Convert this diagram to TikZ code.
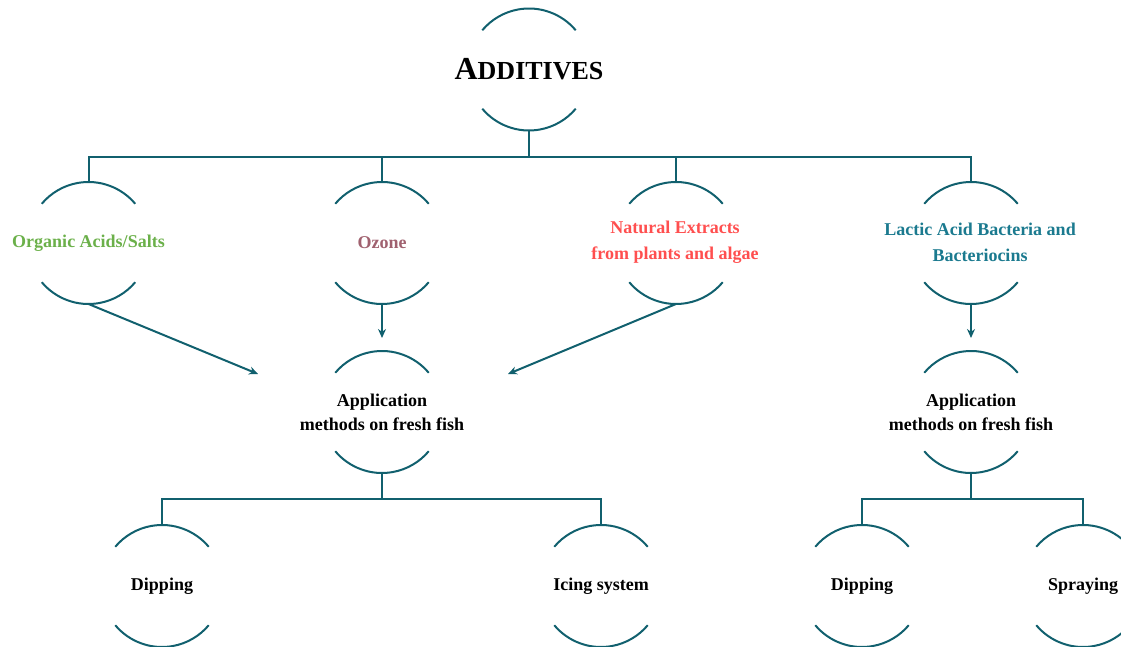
\documentclass[tikz,border=0pt]{standalone}
\usepackage{fontspec}
\setmainfont{Liberation Serif}
\usetikzlibrary{arrows.meta,calc}
\definecolor{lncol}{HTML}{11606E}
\definecolor{grn}{HTML}{6BB04A}
\definecolor{mauve}{HTML}{A0616F}
\definecolor{redc}{HTML}{FF4F4F}
\definecolor{tealt}{HTML}{1B7A8F}
\tikzset{
  ln/.style={draw=lncol, line width=2pt},
  arr/.style={ln, -{Stealth[length=9pt,width=8pt]}},
  lab/.style={font=\bfseries\fontsize{18}{24}\selectfont, align=center, inner sep=0pt},
  wide/.style={font=\bfseries\fontsize{18}{26}\selectfont},
}
\newcommand{\bub}[5]{%
  \node[lab,#4] (#1) at (#2,#3) {#5};
  \coordinate (#1-n) at (#2,#3+61);
  \coordinate (#1-s) at (#2,#3-61);
  \coordinate (#1-in) at (#2,#3+74);
  \draw[ln] (#2,#3) ++(40:61) arc (40:140:61);
  \draw[ln] (#2,#3) ++(220:61) arc (220:320:61);
}
\begin{document}
\begin{tikzpicture}[x=1pt,y=1pt]
\useasboundingbox (0,0) rectangle (1121,-647);
\clip (0,0) rectangle (1121,-647);
\bub{add}{529}{-69.5}{}{{\fontsize{32}{32}\selectfont A}{\fontsize{26}{26}\selectfont DDITIVES}}
\bub{org}{88.5}{-243}{text=grn}{Organic Acids/Salts}
\bub{oz}{382}{-243}{text=mauve}{Ozone}
\bub{nat}{676}{-243}{wide,text=redc,xshift=-1pt,yshift=1pt}{Natural Extracts\\from plants and algae}
\bub{lac}{971}{-243}{wide,text=tealt,xshift=9pt,yshift=1pt}{Lactic Acid Bacteria and\\Bacteriocins}
\bub{appL}{382}{-412}{}{Application\\methods on fresh fish}
\bub{appR}{971}{-412}{}{Application\\methods on fresh fish}
\bub{dipL}{162}{-586}{}{Dipping}
\bub{ice}{601}{-586}{}{Icing system}
\bub{dipR}{862}{-586}{}{Dipping}
\bub{spr}{1083}{-586}{}{Spraying}
% top tree
\coordinate (bus1) at (529,-157);
\draw[ln] (add-s) -- (bus1);
\draw[ln] (org-n) |- (bus1) -| (lac-n);
\draw[ln] (oz-n) -- (oz-n |- bus1);
\draw[ln] (nat-n) -- (nat-n |- bus1);
% arrows
\coordinate (tipL) at (258,-374);
\coordinate (tipR) at (508,-374);
\draw[arr] (org-s) -- (tipL);
\draw[arr] (nat-s) -- (tipR);
\draw[arr] (oz-s) -- (appL-in);
\draw[arr] (lac-s) -- (appR-in);
% bottom trees
\coordinate (bus2) at (382,-499);
\draw[ln] (appL-s) -- (bus2);
\draw[ln] (dipL-n) |- (bus2) -| (ice-n);
\coordinate (bus3) at (971,-499);
\draw[ln] (appR-s) -- (bus3);
\draw[ln] (dipR-n) |- (bus3) -| (spr-n);
\end{tikzpicture}
\end{document}
